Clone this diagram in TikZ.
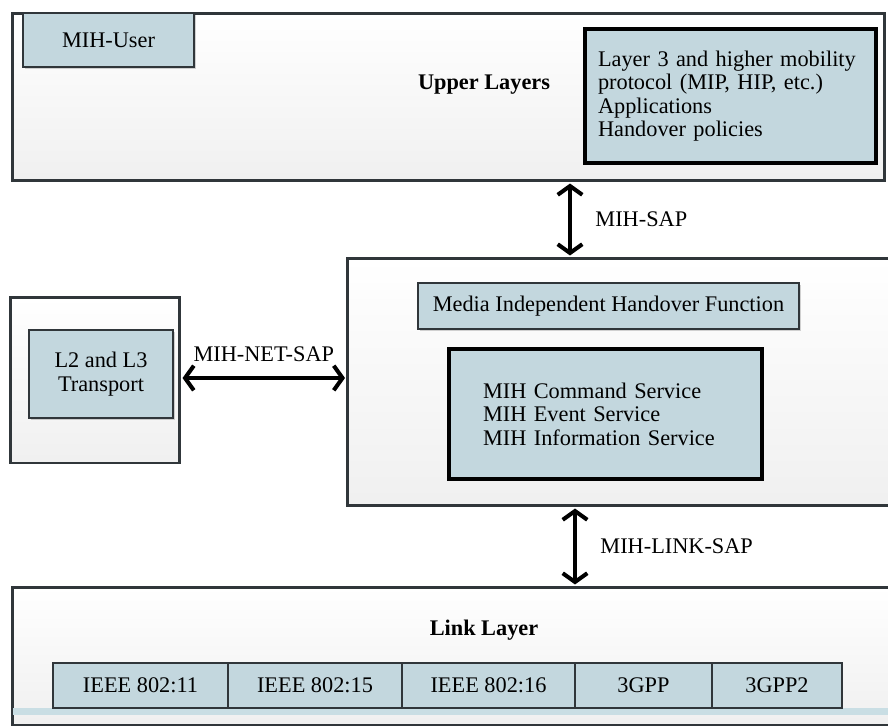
\documentclass[tikz,border=0pt]{standalone}
\usepackage{fontspec}
\setmainfont{Liberation Serif}
\usetikzlibrary{arrows.meta,shadows}
\definecolor{boxblue}{HTML}{C3D7DE}
\definecolor{edgegray}{HTML}{30363A}
\definecolor{midgray}{HTML}{D8DBDF}
\definecolor{stripblue}{HTML}{C9DEE4}
\begin{document}
\begin{tikzpicture}[x=0.02cm,y=-0.02cm,
  layer/.style={draw=edgegray,line width=1.7pt,top color=white,middle color=midgray,bottom color=gray!12,inner sep=0pt},
  blk/.style={draw=edgegray,line width=1.1pt,fill=boxblue,inner sep=0pt,font=\fontsize{12.7}{13.4}\selectfont,drop shadow={opacity=0.35,shadow xshift=1pt,shadow yshift=-1pt}},
  bigblk/.style={blk,draw=black,line width=2.2pt},
  cell/.style={draw=edgegray,line width=0.9pt,fill=boxblue,inner sep=0pt,minimum height=0.9cm,font=\fontsize{12.7}{14}\selectfont},
  title/.style={font=\fontsize{12.7}{14}\selectfont\bfseries},
  sap/.style={line width=2.3pt,{Straight Barb[length=5pt,width=14pt]}-{Straight Barb[length=5pt,width=14pt]},shorten <=0.6pt,shorten >=0.6pt},
  saplabel/.style={font=\fontsize{12.7}{14}\selectfont}]
\useasboundingbox (0,0) rectangle (888,727);

% upper layers
\node[layer,minimum width=17.46cm,minimum height=3.36cm] (upper) at (448.5,97) {};
\node[blk,minimum width=3.42cm,minimum height=1.08cm] (user) at (108.5,40) {MIH-User};
\node[title] (uppertitle) at (484,85) {Upper Layers};
\node[bigblk,minimum width=5.82cm,minimum height=2.68cm,text width=5.3cm,inner xsep=0.26cm,align=left] (l3) at (730.5,96)
  {Layer 3 and higher mobility\\protocol (MIP, HIP, etc.)\\Applications\\Handover policies};

% MIH function
\node[layer,minimum width=10.9cm,minimum height=4.96cm] (mid) at (620,382) {};
\node[blk,minimum width=7.62cm,minimum height=0.92cm] (mihf) at (608.5,306) {Media Independent Handover Function};
\node[bigblk,minimum width=6.26cm,minimum height=2.6cm,text width=4.9cm,inner xsep=0.68cm,align=left] (serv) at (605.5,414)
  {MIH Command Service\\MIH Event Service\\MIH Information Service};

% network side
\node[layer,minimum width=3.4cm,minimum height=3.32cm] (net) at (95,380) {};
\node[blk,minimum width=2.88cm,minimum height=1.76cm,align=center] (transport) at (101,374) {L2 and L3\\Transport};

% link layer
\node[layer,minimum width=17.64cm,minimum height=2.76cm] (link) at (453,656) {};
\fill[stripblue] (13,708) rectangle (888,715);
\node[title] (linktitle) at (484,630) {Link Layer};
\node[cell,minimum width=3.5cm] (c1) at (140.5,685.5) {IEEE 802:11};
\node[cell,minimum width=3.48cm] (c2) at (315,685.5) {IEEE 802:15};
\node[cell,minimum width=3.46cm] (c3) at (488.5,685.5) {IEEE 802:16};
\node[cell,minimum width=2.74cm] (c4) at (643.5,685.5) {3GPP};
\node[cell,minimum width=2.6cm] (c5) at (777,685.5) {3GPP2};

% service access points
\coordinate (sapx) at (570,0);
\coordinate (netx) at (0,378);
\coordinate (linkx) at (575,0);
\draw[sap] (upper.south -| sapx) -- node[saplabel,right=10pt] (saplbl) {MIH-SAP} (mid.north -| sapx);
\draw[sap] (net.east |- netx) -- node[saplabel,above=5pt] (netlbl) {MIH-NET-SAP} (mid.west |- netx);
\draw[sap] (mid.south -| linkx) -- node[saplabel,right=10pt] (linklbl) {MIH-LINK-SAP} (link.north -| linkx);
\end{tikzpicture}
\end{document}
